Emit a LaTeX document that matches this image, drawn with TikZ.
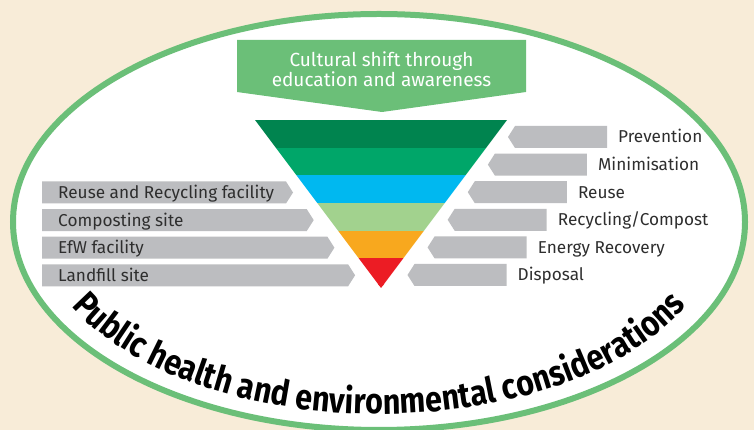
\documentclass[tikz,border=0pt]{standalone}
\usepackage{fontspec}
\setmainfont{Fira Sans}
\newfontfamily\arcfont[FakeStretch=0.86]{Fira Sans}
\usetikzlibrary{decorations.text}

\definecolor{cream}{HTML}{F8ECD8}
\definecolor{rimgreen}{HTML}{6BBF78}
\definecolor{tabgrey}{HTML}{BCBDC0}
\definecolor{labelgrey}{HTML}{2E2E2E}
\definecolor{levelA}{HTML}{00844F}
\definecolor{levelB}{HTML}{00A669}
\definecolor{levelC}{HTML}{00B8F0}
\definecolor{levelD}{HTML}{A2D28E}
\definecolor{levelE}{HTML}{F8A81E}
\definecolor{levelF}{HTML}{EC1C24}
\newcommand\curvefont{\arcfont\bfseries\fontsize{35.5}{37}\selectfont}

\begin{document}
\begin{tikzpicture}[x=1pt, y=1pt,
    label text/.style={font=\fontsize{17.2}{19}\selectfont, text=labelgrey, inner sep=0pt},
    shift text/.style={font=\fontsize{19}{20.5}\selectfont, text=white, align=center, inner sep=0pt}]
    \fill [cream] (0,0) rectangle (754,430);
    \useasboundingbox (0,0) rectangle (754,430);
    \filldraw [fill=white, draw=rimgreen, line width=6pt] (379,208) ellipse [x radius=366, y radius=208];

    % top banner
    \fill [rimgreen] (237,390) -- (526,390) -- (526,338) -- (382,318) -- (237,338) -- cycle;
    \node [shift text] (shift) at (381.5,361) {Cultural shift through\\education and awareness};

    % inverted pyramid
    \begin{scope}
        \clip (255,310) -- (507,310) -- (381,142) -- cycle;
        \foreach \c [count=\i from 0] in {levelA, levelB, levelC, levelD, levelE, levelF}
            \fill [\c] (250,310-27.7*\i) rectangle (512,282.3-27.7*\i);
        \fill [levelF] (250,146) rectangle (512,130);
    \end{scope}

    % hierarchy tabs (right)
    \foreach \lab [count=\i from 0] in {Prevention, Minimisation, Reuse, Recycling/Compost, Energy Recovery, Disposal} {
        \pgfmathsetmacro\tx{508-20.1*\i}
        \pgfmathsetmacro\ty{293-27.6*\i}
        \fill [tabgrey] (\tx,\ty) -- (\tx+7,\ty+11) -- (\tx+99,\ty+11) -- (\tx+99,\ty-11) -- (\tx+7,\ty-11) -- cycle;
        \node [label text, anchor=base west] (level\i) at (\tx+110,\ty-6) {\lab};
    }

    % facility tabs (left)
    \foreach \lab [count=\i from 0] in {Reuse and Recycling facility, Composting site, EfW facility, Landfill site} {
        \pgfmathsetmacro\tx{293+20.7*\i}
        \pgfmathsetmacro\ty{237.5-27.6*\i}
        \fill [tabgrey] (42,\ty+11) -- (\tx-7,\ty+11) -- (\tx,\ty) -- (\tx-7,\ty-11) -- (42,\ty-11) -- cycle;
        \node [label text, anchor=base west] (site\i) at (58,\ty-6) {\lab};
    }

    % curved caption
    \path [decorate, decoration={text along path, text align=center,
        text={|\curvefont|Public health and environmental considerations}}]
        (379,208) ++(195:342 and 192) arc [start angle=195, end angle=345, x radius=342, y radius=192];
\end{tikzpicture}
\end{document}
